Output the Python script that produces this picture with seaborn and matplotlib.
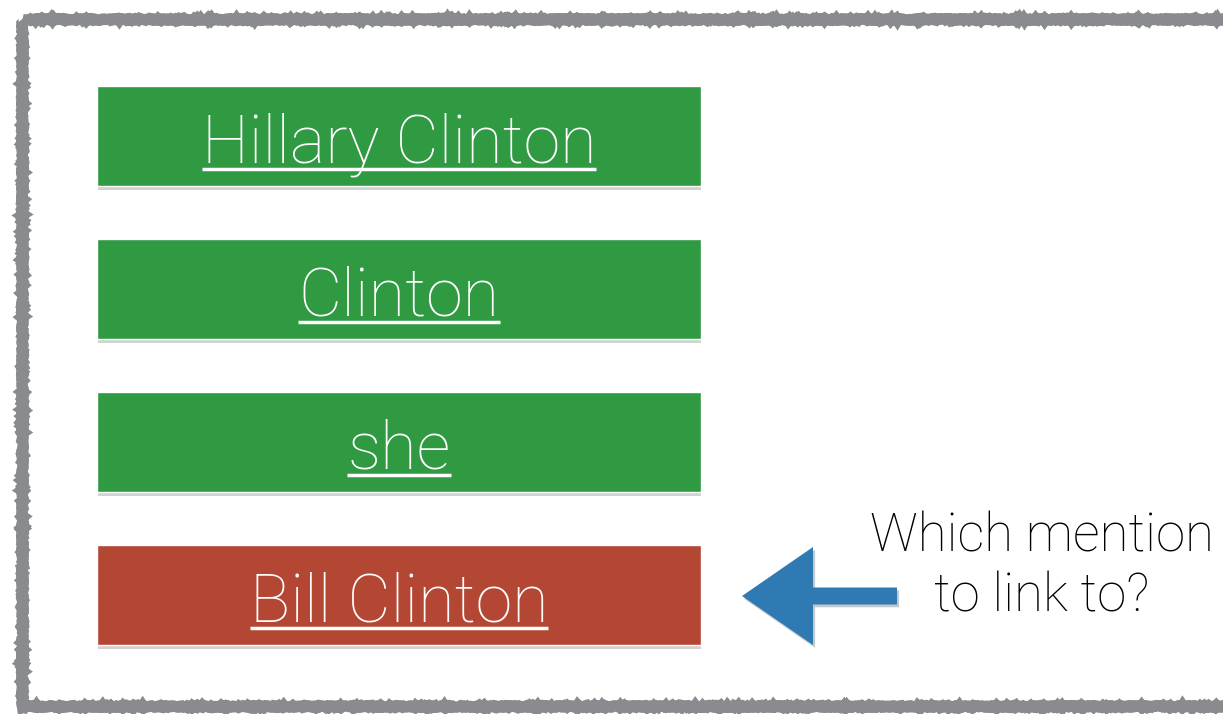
import numpy as np
import pandas as pd
import matplotlib
matplotlib.use("Agg")
import matplotlib.pyplot as plt
import matplotlib.patheffects as pe
from matplotlib.patches import Rectangle, FancyArrow
import seaborn as sns

# mentions in the document and whether they link to the right entity
mentions = ["Hillary Clinton", "Clinton", "she", "Bill Clinton"]
linked = [True, True, True, False]
bar_len = [1, 1, 1, 1]
question = "Which mention\nto link to?"

GREEN = "#2f9a42"
RED = "#b44634"
BLUE = "#2f7ab3"
FRAME = "#8a8b8f"

df = pd.DataFrame({"mention": mentions, "len": bar_len,
                   "status": ["ok" if v else "bad" for v in linked]})

sns.set_theme(style="white")
plt.rcParams["font.family"] = ["Roboto", "DejaVu Sans"]

W, H = 1223, 714
fig = plt.figure(figsize=(W / 100, H / 100), dpi=100)
fig.patch.set_facecolor("white")

# background axes in pixel coordinates for frame, arrow and question
bg = fig.add_axes([0, 0, 1, 1])
bg.set_xlim(0, W)
bg.set_ylim(H, 0)
bg.axis("off")

frame = Rectangle((22, 19), 1260, 687, fill=False, edgecolor=FRAME, lw=8)
frame.set_sketch_params(scale=0.8, length=3, randomness=8)
bg.add_patch(frame)

arrow = FancyArrow(897, 596, -155, 0, width=17, head_width=98, head_length=71,
                   length_includes_head=True, color=BLUE, lw=0,
                   path_effects=[pe.SimplePatchShadow(offset=(1.5, -2), alpha=0.25),
                                 pe.Normal()])
bg.add_patch(arrow)

bg.text(1042, 612, question, ha="center", va="baseline", fontsize=38,
        fontweight="light", color="black", linespacing=1.22,
        multialignment="center")

# the mention boxes as a horizontal seaborn bar plot
ax = fig.add_axes([97 / W, 1 - 671.5 / H, 604 / W, 612 / H])
sns.barplot(data=df, y="mention", x="len", hue="status", orient="h",
            palette={"ok": GREEN, "bad": RED}, width=0.65, legend=False,
            saturation=1, ax=ax)
ax.set_xlim(0, 1)
ax.set_ylim(3.5, -0.5)
ax.axis("off")
ax.patch.set_alpha(0)
for p in ax.patches:
    p.set_path_effects([pe.SimplePatchShadow(offset=(1, -3), alpha=0.2), pe.Normal()])

labels = []
for i, m in enumerate(mentions):
    t = ax.text(0.5, i + 0.17, m, ha="center", va="baseline", fontsize=48,
                fontweight="light", color="white")
    labels.append(t)

# underline each mention like a hyperlink (drawn on the bar axes, above the bars)
fig.canvas.draw()
r = fig.canvas.get_renderer()
inv = ax.transData.inverted()
for i, t in enumerate(labels):
    bb = t.get_window_extent(renderer=r)
    base = ax.transData.transform((0, i + 0.17))[1]
    x0, yline = inv.transform((bb.x0, base - 7))
    x1, _ = inv.transform((bb.x1, base - 7))
    ax.plot([x0, x1], [yline, yline], color="white", lw=2.5,
            solid_capstyle="butt", zorder=5)

fig.savefig("out.png", dpi=100)
